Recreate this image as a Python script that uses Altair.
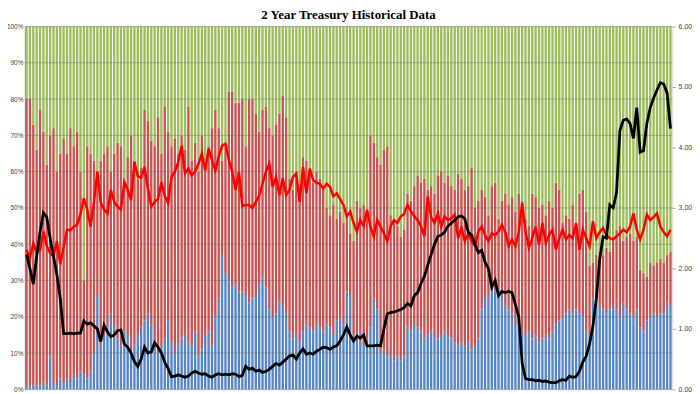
import altair as alt
import pandas as pd

# 2-year auctions, monthly, Jan 2008 .. Dec 2023
# blue = Directs (%), red_top = Directs + Indirects (%), rest = Dealers
blue = [
    1, 1, 1, 1.5, 1, 2, 1, 9, 2, 1, 3, 2,
    3, 2, 4, 3, 5, 4, 3, 5, 10, 26, 12, 15,
    17, 21, 18, 14, 12, 16, 15, 10, 12, 15, 17, 19,
    21, 18, 13, 10, 12, 14, 19, 13, 10, 12, 14, 15,
    13, 12, 16, 9, 11, 15, 16, 12, 20, 25, 37, 32,
    30, 28, 29, 27, 27, 26, 24, 25, 26, 29, 31, 28,
    22, 20, 21, 24, 23, 21, 16, 14, 15, 13, 16, 18,
    17, 16, 18, 17, 16, 18, 17, 15, 19, 20, 18, 27,
    26, 15, 13, 16, 12, 14, 17, 25, 22, 10, 11, 9,
    10, 8, 9, 8, 9, 17, 16, 18, 17, 16, 14, 15,
    16, 15, 14, 15, 16, 15, 14, 13, 12, 13, 12, 13,
    11, 12, 14, 22, 26, 25, 28, 27, 28, 26, 23, 22,
    21, 18, 17, 16, 15, 16, 14, 15, 13, 14, 15, 14,
    16, 18, 19, 20, 21, 22, 21, 22, 21, 20, 16, 15,
    25, 26, 23, 22, 21, 22, 23, 22, 20, 24, 22, 21,
    20, 22, 17, 16, 19, 20, 21, 20, 21, 21, 24, 23,
]
red_top = [
    80, 80, 73, 66, 77, 71, 62, 70, 72, 60, 65, 69,
    65, 72, 67, 71, 60, 30, 67, 65, 63, 60, 63, 65,
    67, 60, 65, 68, 67, 56, 64, 70, 63, 58, 61, 77,
    74, 68.5, 67, 75, 65, 78, 71, 67, 69, 65, 70, 66,
    78, 63, 68, 60, 70, 62, 67, 72, 77, 72, 63, 67,
    82, 82, 79, 79, 80, 67, 80, 80, 76, 71, 77, 78,
    72, 70, 73, 76, 81, 75, 58, 55, 59, 56, 64, 63,
    60, 57, 60, 58, 55, 50, 48, 51, 47, 49, 46, 48,
    43, 41, 52, 50, 51, 49, 70, 68, 64, 62, 66, 67,
    48, 47, 45, 42, 44, 54, 52, 56, 59, 57, 58, 55,
    56, 54, 59, 60, 57, 59, 56, 55, 59.5, 58, 55, 56,
    61, 50, 52, 55, 53, 48, 56, 57, 47, 52, 54, 51,
    53, 49, 54, 52, 47, 45, 54, 53, 50, 51, 48, 52,
    50, 57, 55, 46, 48, 47, 51, 45, 54, 55, 49, 34,
    35, 37, 38, 37, 39, 38, 42, 44, 45, 41, 42, 43,
    41, 42, 33, 32, 31, 35, 34, 35, 36, 35, 37, 38,
]
# red line: bid to cover (right axis)
btc = [
    2.31, 2.17, 2.41, 2.26, 2.3, 2.61, 2.37, 2.25, 2.2, 2.45, 2.07, 2.35,
    2.64, 2.63, 2.69, 2.72, 2.9, 3.16, 2.97, 2.69, 3.1, 3.6, 3.1, 2.97,
    2.91, 3.3, 3.1, 3.02, 2.97, 3.43, 3.3, 3.13, 3.76, 3.52, 3.5, 3.68,
    3.32, 3.02, 3.1, 3.15, 3.43, 3.2, 3.08, 3.51, 3.6, 3.76, 4.03, 3.57,
    3.65, 3.54, 3.6, 3.73, 3.9, 3.62, 3.98, 3.8, 3.62, 3.85, 4.03, 4.06,
    3.8, 3.6, 3.3, 3.6, 3.03, 3.05, 3.05, 3.0, 3.1, 3.2, 3.4, 3.6,
    3.73, 3.35, 3.51, 3.21, 3.49, 3.21, 3.3, 3.51, 3.57, 3.1, 3.68, 3.24,
    3.65, 3.46, 3.42, 3.4, 3.32, 3.4, 3.35, 3.19, 3.24, 3.15, 3.05, 2.86,
    2.94, 2.75, 2.61, 2.8, 2.7, 2.97, 2.69, 2.53, 2.8, 2.69, 2.58, 2.45,
    2.7, 2.8, 2.75, 2.86, 2.9, 3.05, 2.95, 2.86, 2.8, 2.7, 2.53, 3.19,
    2.85, 2.75, 2.91, 2.69, 2.86, 2.8, 2.83, 2.89, 2.5, 2.67, 2.45, 2.58,
    2.45, 2.37, 2.61, 2.69, 2.55, 2.45, 2.58, 2.55, 2.61, 2.72, 2.6, 2.37,
    2.48, 2.37, 2.6, 3.08, 2.61, 2.34, 2.5, 2.69, 2.39, 2.75, 2.42, 2.55,
    2.64, 2.31, 2.5, 2.64, 2.48, 2.55, 2.5, 2.75, 2.31, 2.64, 2.5, 2.37,
    2.78, 2.5, 2.6, 2.67, 2.55, 2.5, 2.48, 2.53, 2.58, 2.64, 2.6, 2.69,
    2.91, 2.64, 2.48, 2.64, 2.89, 2.8, 2.85, 2.91, 2.69, 2.6, 2.53, 2.64,
]
# black line: high yield (right axis)
yld = [
    2.23, 2.0, 1.74, 2.2, 2.6, 2.92, 2.85, 2.5, 2.2, 1.9, 1.5, 0.92,
    0.92, 0.93, 0.92, 0.93, 0.93, 1.13, 1.08, 1.1, 1.05, 1.0, 0.79, 1.06,
    0.95, 0.87, 0.9, 0.97, 0.98, 0.75, 0.7, 0.6, 0.46, 0.38, 0.5, 0.7,
    0.6, 0.62, 0.77, 0.7, 0.6, 0.45, 0.34, 0.21, 0.22, 0.24, 0.22, 0.2,
    0.22, 0.27, 0.3, 0.27, 0.25, 0.26, 0.22, 0.2, 0.24, 0.26, 0.24, 0.25,
    0.24, 0.26, 0.25, 0.21, 0.23, 0.38, 0.33, 0.35, 0.3, 0.32, 0.28, 0.3,
    0.33, 0.38, 0.43, 0.4, 0.45, 0.5, 0.55, 0.57, 0.5, 0.6, 0.67, 0.58,
    0.6, 0.58, 0.63, 0.66, 0.7, 0.69, 0.66, 0.7, 0.72, 0.8, 0.9, 1.03,
    0.9, 0.8, 0.88, 0.85, 0.9, 0.72, 0.72, 0.72, 0.73, 0.72, 1.0, 1.25,
    1.27, 1.28, 1.3, 1.32, 1.35, 1.42, 1.38, 1.55, 1.6, 1.75, 1.87, 2.05,
    2.23, 2.4, 2.53, 2.55, 2.6, 2.7, 2.75, 2.8, 2.85, 2.87, 2.82, 2.6,
    2.55, 2.4, 2.26, 2.3, 2.1, 2.0, 1.69, 1.8, 1.55, 1.62, 1.6, 1.62,
    1.6, 1.4, 1.2, 0.43, 0.18, 0.16, 0.16, 0.14, 0.15, 0.13, 0.14, 0.12,
    0.11, 0.11, 0.14, 0.16, 0.15, 0.22, 0.2, 0.21, 0.3, 0.45, 0.55, 0.75,
    1.05, 1.5, 2.15, 2.52, 2.5, 3.05, 3.0, 3.26, 4.28, 4.45, 4.47, 4.4,
    4.15, 4.66, 3.92, 3.95, 4.4, 4.66, 4.82, 4.95, 5.07, 5.05, 4.9, 4.31,
]
series_names = ["Direct", "Indirect", "Dealer"]
series_colors = ["#5585C2", "#C55553", "#9DBD5C"]
pct_ticks = [0, 0.1, 0.2, 0.3, 0.4, 0.5, 0.6, 0.7, 0.8, 0.9, 1.0]
rate_ticks = [0, 1, 2, 3, 4, 5, 6]

n = len(blue)
rows = []
for i in range(n):
    rows.append({"i": i, "s": "Direct", "o": 1, "v": blue[i] / 100})
    rows.append({"i": i, "s": "Indirect", "o": 2, "v": (red_top[i] - blue[i]) / 100})
    rows.append({"i": i, "s": "Dealer", "o": 3, "v": (100 - red_top[i]) / 100})
bars_df = pd.DataFrame(rows)
lines_df = pd.DataFrame({"i": list(range(n)), "btc": btc, "yld": yld})
grid_df = pd.DataFrame({"g": pct_ticks})

xenc = alt.X("i:O", axis=None, scale=alt.Scale(paddingInner=0.3, paddingOuter=0.15))

bars = alt.Chart(bars_df).mark_bar().encode(
    x=xenc,
    y=alt.Y("v:Q", stack="zero",
            scale=alt.Scale(domain=[0, 1], nice=False),
            axis=alt.Axis(format=".0%", values=pct_ticks, title=None, orient="left",
                          labelFontSize=6.5, labelColor="#404040", labelFont="Liberation Sans",
                          ticks=False, domain=True, domainColor="#a0a0a0", grid=False,
                          labelPadding=2)),
    color=alt.Color("s:N", scale=alt.Scale(domain=series_names, range=series_colors), legend=None),
    order=alt.Order("o:Q"),
)

grid = alt.Chart(grid_df).mark_rule(color="#6f6f6f", opacity=0.45, strokeWidth=1).encode(
    y=alt.Y("g:Q", scale=alt.Scale(domain=[0, 1], nice=False), axis=None)
)

rate_scale = alt.Scale(domain=[0, 6], nice=False)
red_line = alt.Chart(lines_df).mark_line(color="#FF0000", strokeWidth=2.5).encode(
    x=xenc,
    y=alt.Y("btc:Q", scale=rate_scale,
            axis=alt.Axis(format=".2f", values=rate_ticks, title=None, orient="right",
                          labelFontSize=7, labelColor="#404040", labelFont="Liberation Sans",
                          tickSize=3, tickColor="#a0a0a0", domain=False, grid=False,
                          labelPadding=3)),
)
black_line = alt.Chart(lines_df).mark_line(color="#000000", strokeWidth=2.8).encode(
    x=xenc,
    y=alt.Y("yld:Q", scale=rate_scale),
)
lines = alt.layer(red_line, black_line)

chart = alt.layer(bars, grid, lines).resolve_scale(y="independent").properties(
    width=653,
    height=366,
    padding={"left": 17, "top": 17, "right": 20, "bottom": 3},
    autosize=alt.AutoSizeParams(type="none"),
    title=alt.TitleParams("2 Year Treasury Historical Data", font="Liberation Serif",
                          fontSize=13, fontWeight="bold", color="#000000",
                          anchor="middle", offset=1),
).configure_view(stroke=None).configure(background="#ffffff")

chart.save("out.html", embed_options={"renderer": "svg", "actions": False})
